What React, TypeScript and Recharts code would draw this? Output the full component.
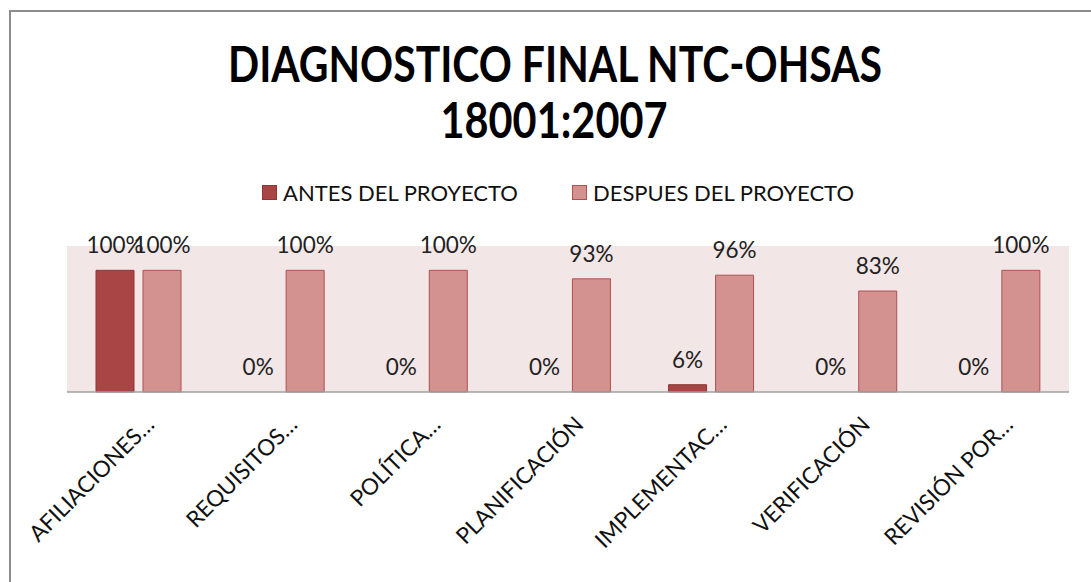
import React from 'react';
import { BarChart, Bar, XAxis, YAxis, CartesianGrid, LabelList, Rectangle } from 'recharts';

const categories = [
  'AFILIACIONES…',
  'REQUISITOS…',
  'POLÍTICA…',
  'PLANIFICACIÓN',
  'IMPLEMENTAC…',
  'VERIFICACIÓN',
  'REVISIÓN POR…',
];
const antes = [1, 0, 0, 0, 0.06, 0, 0];
const despues = [1, 1, 1, 0.93, 0.96, 0.83, 1];
const seriesNames = ['ANTES DEL PROYECTO', 'DESPUES DEL PROYECTO'];
const titleLines = ['DIAGNOSTICO FINAL NTC-OHSAS', '18001:2007'];

const FONT = 'Lato, "Open Sans", sans-serif';
const ANTES_FILL = '#A94544';
const ANTES_STROKE = '#8E3735';
const DESPUES_FILL = '#D39190';
const DESPUES_STROKE = '#AE5150';

const data = categories.map((name, i) => ({
  name,
  antes: antes[i],
  despues: despues[i],
}));

const pct = (v: any) => `${Math.round(Number(v) * 100)}%`;

// zero bars still need a rect so their label is placed, but draw nothing
const BarShape = (props: any) =>
  props.height < 0.5 ? <g /> : <Rectangle {...props} />;
const zeroSize = () => 0.01;

function AngledTick(props: any) {
  const { x, y, payload } = props;
  return (
    <g transform={`translate(${x + 17},${y + 26})`}>
      <text
        textAnchor="end"
        transform="rotate(-45)"
        fontSize={22.5}
        fontFamily={FONT}
        fill="#111"
      >
        {payload.value}
      </text>
    </g>
  );
}

export default function App() {
  return (
    <div
      style={{
        position: 'absolute',
        left: 0,
        top: 0,
        width: 1091,
        height: 582,
        background: '#fff',
        overflow: 'hidden',
        fontFamily: FONT,
      }}
    >
      <div
        style={{
          position: 'absolute',
          left: 9,
          top: 10,
          width: 1100,
          height: 600,
          border: '2px solid #8c8c8c',
          boxSizing: 'border-box',
        }}
      />
      <svg
        width={1091}
        height={150}
        style={{ position: 'absolute', left: 0, top: 0 }}
      >
        <text
          x={555}
          y={82}
          textAnchor="middle"
          fontSize={49}
          fontWeight="bold"
          fontFamily={FONT}
          textLength={654}
          lengthAdjust="spacingAndGlyphs"
          fill="#000"
        >
          {titleLines[0]}
        </text>
        <text
          x={554}
          y={138}
          textAnchor="middle"
          fontSize={49}
          fontWeight="bold"
          fontFamily={FONT}
          textLength={227}
          lengthAdjust="spacingAndGlyphs"
          fill="#000"
        >
          {titleLines[1]}
        </text>
      </svg>
      <div
        style={{
          position: 'absolute',
          left: 262,
          top: 179,
          display: 'flex',
          alignItems: 'center',
          fontSize: 22,
          color: '#111',
        }}
      >
        {seriesNames.map((n, i) => (
          <div
            key={n}
            style={{ display: 'flex', alignItems: 'center', marginRight: i === 0 ? 54 : 0 }}
          >
            <span
              style={{
                display: 'inline-block',
                width: 13,
                height: 13,
                background: i === 0 ? ANTES_FILL : DESPUES_FILL,
                border: `1px solid ${i === 0 ? ANTES_STROKE : DESPUES_STROKE}`,
                marginRight: 6,
              }}
            />
            <span>{n}</span>
          </div>
        ))}
      </div>
      <div style={{ position: 'absolute', left: 0, top: 0 }}>
        <BarChart
          width={1091}
          height={582}
          data={data}
          margin={{ top: 246, right: 22, left: 67, bottom: 40 }}
          barGap={9}
          barSize={38}
        >
          <CartesianGrid fill="#F2E6E6" stroke="none" horizontal={false} vertical={false} />
          <YAxis hide domain={[0, 1.2]} width={0} />
          <XAxis
            dataKey="name"
            height={150}
            interval={0}
            tickLine={false}
            axisLine={{ stroke: '#A0A0A0', strokeWidth: 1.5 }}
            tick={<AngledTick />}
          />
          <Bar
            dataKey="antes"
            name={seriesNames[0]}
            fill={ANTES_FILL}
            stroke={ANTES_STROKE}
            strokeWidth={1}
            minPointSize={zeroSize}
            shape={BarShape}
            isAnimationActive={false}
          >
            <LabelList
              dataKey="antes"
              position="top"
              offset={17}
              formatter={pct}
              fontSize={22.5}
              fontFamily={FONT}
              fill="#222"
            />
          </Bar>
          <Bar
            dataKey="despues"
            name={seriesNames[1]}
            fill={DESPUES_FILL}
            stroke={DESPUES_STROKE}
            strokeWidth={1}
            minPointSize={zeroSize}
            shape={BarShape}
            isAnimationActive={false}
          >
            <LabelList
              dataKey="despues"
              position="top"
              offset={17}
              formatter={pct}
              fontSize={22.5}
              fontFamily={FONT}
              fill="#222"
            />
          </Bar>
        </BarChart>
      </div>
    </div>
  );
}
